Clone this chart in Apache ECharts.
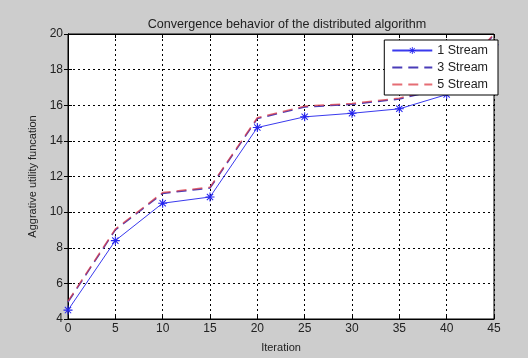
<!DOCTYPE html>
<html>
<head>
<meta charset="utf-8">
<script src="https://cdn.jsdelivr.net/npm/echarts@6/dist/echarts.min.js"></script>
<style>
  html, body { margin: 0; padding: 0; background: #cdcdcd; }
  #chart { width: 528px; height: 358px; }
</style>
</head>
<body>
<div id="chart"></div>
<script>
const iterations = [0, 5, 10, 15, 20, 25, 30, 35, 40, 45];
const stream1 = [4.5, 8.4, 10.5, 10.85, 14.75, 15.35, 15.55, 15.8, 16.6, 19.4];
const stream3 = [4.95, 9.0, 11.05, 11.35, 15.25, 15.9, 16.05, 16.35, 17.0, 19.95];
const stream5 = [5.0, 9.05, 11.1, 11.4, 15.3, 15.95, 16.1, 16.4, 17.05, 20.0];
const yTicks = [4, 6, 8, 10, 12, 14, 16, 18, 20];

// asterisk marker
const star = 'path://M-0.6,-5L0.6,-5L0.6,5L-0.6,5Z M-5,-0.6L5,-0.6L5,0.6L-5,0.6Z ' +
  'M-3.9,-3.1L-3.1,-3.9L3.9,3.1L3.1,3.9Z M3.1,-3.9L3.9,-3.1L-3.1,3.9L-3.9,3.1Z';

const font = 'Liberation Sans, Arial, sans-serif';
const chart = echarts.init(document.getElementById('chart'));

const dotted = { show: true, lineStyle: { color: '#000', type: [2, 3], width: 1 } };

chart.setOption({
  backgroundColor: '#cdcdcd',
  animation: false,
  title: {
    text: 'Convergence behavior of the distributed algorithm',
    left: 282, top: 13, textAlign: 'center',
    textStyle: { fontFamily: font, fontSize: 12.6, fontWeight: 'normal', color: '#222' }
  },
  legend: {
    orient: 'vertical',
    right: 30, top: 40,
    backgroundColor: '#fff',
    borderColor: '#000', borderWidth: 1, borderRadius: 0,
    padding: [4, 10, 4, 7],
    itemGap: 4,
    itemWidth: 40, itemHeight: 9,
    textStyle: { fontFamily: font, fontSize: 12.5, color: '#222' },
    data: [
      { name: '1 Stream' },
      { name: '3 Stream', itemStyle: { opacity: 0 } },
      { name: '5 Stream', itemStyle: { opacity: 0 } }
    ]
  },
  grid: {
    left: 68, top: 34, width: 426, height: 295,
    show: true, backgroundColor: '#fff', borderColor: '#000', borderWidth: 1
  },
  xAxis: [{
    type: 'value', min: 0, max: 45, interval: 5,
    name: 'Iteration', nameLocation: 'middle', nameGap: 23,
    nameTextStyle: { fontFamily: font, fontSize: 11, color: '#222' },
    axisLine: { show: true, lineStyle: { color: '#000' } },
    axisTick: { show: true, inside: true, length: 4, lineStyle: { color: '#000' } },
    axisLabel: { fontFamily: font, fontSize: 12, color: '#222', margin: 4 },
    splitLine: dotted
  }, {
    type: 'value', min: 0, max: 45, interval: 5, position: 'top',
    axisLine: { show: true, lineStyle: { color: '#000' } },
    axisTick: { show: true, inside: true, length: 4, lineStyle: { color: '#000' } },
    axisLabel: { show: false }, splitLine: { show: false }
  }],
  yAxis: [{
    type: 'value', min: 4, max: 20, interval: 2,
    name: 'Aggrative utility funcation', nameLocation: 'middle', nameGap: 28,
    nameTextStyle: { fontFamily: font, fontSize: 11, color: '#222' },
    axisLine: { show: true, lineStyle: { color: '#000' } },
    axisTick: { show: true, inside: true, length: 4, lineStyle: { color: '#000' } },
    axisLabel: {
      fontFamily: font, fontSize: 12, color: '#222', margin: 5,
      formatter: v => yTicks.includes(v) ? String(v) : ''
    },
    splitLine: dotted
  }, {
    type: 'value', min: 4, max: 20, interval: 2, position: 'right',
    axisLine: { show: true, lineStyle: { color: '#000' } },
    axisTick: { show: true, inside: true, length: 4, lineStyle: { color: '#000' } },
    axisLabel: { show: false }, splitLine: { show: false }
  }],
  series: [{
    name: '1 Stream', type: 'line',
    data: iterations.map((x, i) => [x, stream1[i]]),
    symbol: star, symbolSize: 9, showAllSymbol: true,
    lineStyle: { color: '#3a3aee', width: 1 },
    itemStyle: { color: '#2525f0' },
    z: 3
  }, {
    name: '3 Stream', type: 'line',
    data: iterations.map((x, i) => [x, stream3[i]]),
    symbol: 'none',
    lineStyle: { color: '#4a3cb8', width: 1.5, type: [10, 6] },
    itemStyle: { color: '#4a3cb8' },
    z: 2
  }, {
    name: '5 Stream', type: 'line',
    data: iterations.map((x, i) => [x, stream5[i]]),
    symbol: 'none',
    lineStyle: { color: 'rgba(220,60,70,0.75)', width: 1.5, type: [10, 6] },
    itemStyle: { color: '#e04050' },
    z: 2
  }]
});
</script>
</body>
</html>
